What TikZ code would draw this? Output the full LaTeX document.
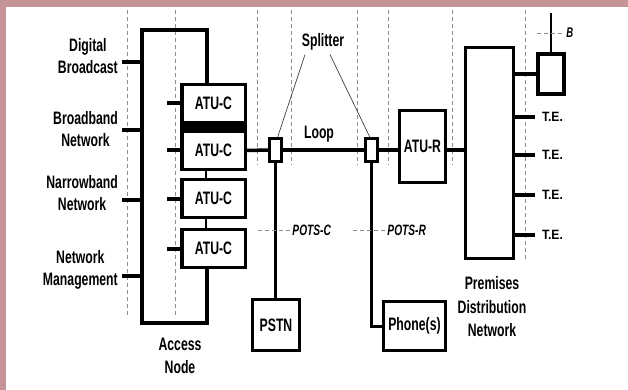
\documentclass[tikz,border=0pt]{standalone}
\usepackage{fontspec}
\setmainfont{Liberation Sans}[FakeStretch=0.68]
\newfontfamily\tefont{Liberation Sans}[FakeStretch=0.9]
\definecolor{band}{HTML}{C69496}
\definecolor{dashgray}{HTML}{8C8C8C}

\begin{document}
\begin{tikzpicture}[x=1pt,y=-1pt,box/.style={draw, line width=3.5pt, inner sep=0pt, font=\fontsize{18}{21}\selectfont\bfseries},wire/.style={line width=3.5pt},stub/.style={line width=4pt},drop/.style={line width=3pt},pointer/.style={line width=0.7pt, black!75},guide/.style={dashgray, dash pattern=on 4pt off 3pt, line width=0.9pt},label/.style={inner sep=0pt, align=center, font=\fontsize{18}{22.5}\selectfont\bfseries},pots/.style={anchor=west, inner sep=0pt, text=black, font=\fontsize{15}{18}\selectfont\bfseries\itshape},te/.style={anchor=west, inner xsep=5pt, inner ysep=0pt, text=black, font=\tefont\fontsize{13.5}{15}\selectfont\bfseries}]
\fill[white] (0,0) rectangle (628,390); \fill[band] (0,0) rectangle (628,7); \fill[band] (0,0) rectangle (6,390);
\useasboundingbox (0,0) rectangle (628,390);
\foreach \x in {127,175} \draw[guide] (\x,10) -- (\x,318);
\foreach \x in {257,291,357,388,452} \draw[guide] (\x,10) -- (\x,165);
\draw[guide] (525,10) -- (525,260);
\node[label, anchor=east] (db) at (118,56) {Digital\\Broadcast}; \node[label, anchor=east] (bb) at (118,129) {Broadband\\Network};
\node[label, anchor=east] (nb) at (118,193) {Narrowband\\Network}; \node[label, anchor=east] (nm) at (118,270) {Network\\Management};
\foreach \y in {62,130,200,276} \draw[stub] (122,\y) -- (142,\y);
\node[box, minimum width=63.5, minimum height=38] (atu1) at (213.5,103.5) {ATU-C};
\node[box, minimum width=63.5, minimum height=38] (atu2) at (213.5,150.5) {ATU-C};
\node[box, minimum width=63.5, minimum height=38] (atu3) at (213.5,198.5) {ATU-C};
\node[box, minimum width=63.5, minimum height=38] (atu4) at (213.5,248.5) {ATU-C};
\fill (atu1.south west) rectangle (atu2.north east);
\draw[line width=2pt] ([xshift=-7.5pt]atu2.south) -- ([xshift=-7.5pt]atu3.north); \draw[line width=2pt] ([xshift=-7.5pt]atu3.south) -- ([xshift=-7.5pt]atu4.north);
\foreach \n in {1,...,4} \draw[stub] (atu\n.west) -- ++(-13,0);
\draw[wire, line width=3.2pt] ([xshift=-6.5pt]atu1.north) -- (207,30) -- (142,30) -- (142,323) -- (207,323) -- ([xshift=-6.5pt]atu4.south);
\node[label] at (180,356) {Access\\Node};
\node[box, line width=3pt, minimum width=12, minimum height=22] (sp1) at (275.5,150) {};
\node[box, line width=3pt, minimum width=12, minimum height=22] (sp2) at (371,150) {};
\node[label] (spl) at (323,42) {Splitter}; \node[label] (loop) at (319,134) {Loop};
\draw[pointer] ([xshift=-18pt,yshift=-4pt]spl.south) -- ([xshift=2pt]sp1.north); \draw[pointer] ([xshift=7pt,yshift=-4pt]spl.south) -- ([xshift=-1pt]sp2.north);
\node[box, minimum width=46, minimum height=72] (atur) at (422.5,146.5) {ATU-R};
\node[box, minimum width=48, minimum height=211] (pdn) at (489.5,153) {};
\node[label, font=\fontsize{18}{23.5}\selectfont\bfseries] at (492,307) {Premises\\Distribution\\Network};
\draw[wire] (atu2.east) -- (sp1.west); \draw[wire] (sp1.east) -- (sp2.west); \draw[wire] (sp2.east) -- (sp2.east -| atur.west); \draw[wire] (sp2.east -| atur.east) -- (sp2.east -| pdn.west);
\node[box, minimum width=47, minimum height=51] (pstn) at (276,325) {PSTN};
\node[box, minimum width=62, minimum height=49] (phone) at (414.5,326) {Phone(s)};
\draw[drop] (sp1.south) -- (sp1.south |- pstn.north); \draw[drop] (sp2.south) |- (phone.west);
\draw[guide] (258,230) -- (292,230) node[pots] {POTS-C}; \draw[guide] (353,230) -- (387,230) node[pots] {POTS-R};
\node[box, line width=4pt, minimum width=26, minimum height=40] (bbox) at (551,74) {};
\draw[wire] (pdn.east |- bbox.west) -- (bbox.west);
\draw[line width=1.2pt] (bbox.north) -- (551,13); \draw[guide] (537,33) -- (563,33) node[pots, inner xsep=3pt, font=\fontsize{14}{16}\selectfont\bfseries\itshape] {B};
\foreach \y in {117,155,195,235} \draw[stub] (pdn.east |- 0,\y) -- (535,\y) node[te] {T.E.};
\end{tikzpicture}
\end{document}
